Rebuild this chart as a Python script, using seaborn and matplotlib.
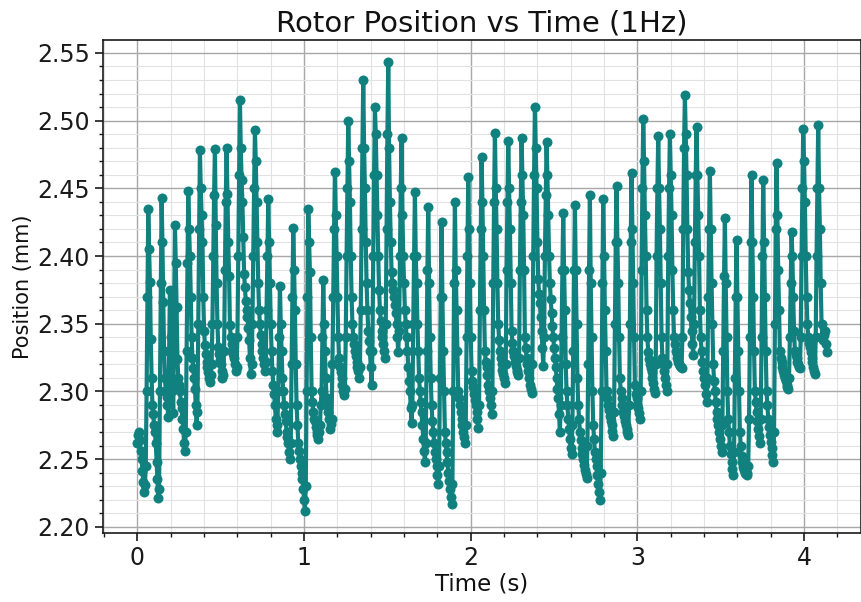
import numpy as np
import pandas as pd
import matplotlib
matplotlib.use("Agg")
import matplotlib.pyplot as plt
from matplotlib.ticker import MultipleLocator, FormatStrFormatter
import seaborn as sns

# Rotor position samples (mm), logged every 5 ms; one row per oscillation cycle,
# each row ending on that cycle's peak.
sample_period_s = 0.005
position_mm = [
    2.262, 2.268, 2.270, 2.264, 2.256, 2.250, 2.241, 2.233, 2.226, 2.231, 2.245, 2.300, 2.370, 2.435,
    2.405, 2.381, 2.339, 2.310, 2.290, 2.283, 2.275, 2.270, 2.262, 2.248, 2.235, 2.221, 2.228, 2.300, 2.380, 2.443,
    2.410, 2.366, 2.330, 2.310, 2.300, 2.296, 2.290, 2.281, 2.330, 2.375,
    2.340, 2.305, 2.300, 2.284, 2.360, 2.423,
    2.395, 2.362, 2.324, 2.310, 2.305, 2.300, 2.292, 2.288, 2.280, 2.272, 2.262, 2.256, 2.270, 2.330, 2.395, 2.448,
    2.420, 2.400, 2.370, 2.340, 2.325, 2.317, 2.310, 2.302, 2.290, 2.275, 2.285, 2.350, 2.420, 2.478,
    2.450, 2.430, 2.410, 2.370, 2.345, 2.334, 2.328, 2.322, 2.318, 2.314, 2.310, 2.307, 2.312, 2.320, 2.350, 2.400, 2.445, 2.479,
    2.423, 2.380, 2.350, 2.333, 2.328, 2.323, 2.320, 2.315, 2.310, 2.312, 2.330, 2.390, 2.440, 2.480,
    2.446, 2.410, 2.385, 2.349, 2.340, 2.335, 2.330, 2.328, 2.325, 2.320, 2.315, 2.318, 2.340, 2.400, 2.460, 2.515,
    2.480, 2.456, 2.440, 2.414, 2.387, 2.377, 2.367, 2.360, 2.355, 2.347, 2.338, 2.325, 2.313, 2.320, 2.350, 2.400, 2.450, 2.493,
    2.470, 2.440, 2.410, 2.380, 2.360, 2.350, 2.342, 2.335, 2.330, 2.325, 2.320, 2.315, 2.322, 2.360, 2.400, 2.442,
    2.410, 2.380, 2.350, 2.330, 2.315, 2.305, 2.298, 2.290, 2.280, 2.270, 2.275, 2.300, 2.340, 2.378,
    2.350, 2.330, 2.310, 2.300, 2.290, 2.283, 2.278, 2.270, 2.266, 2.262, 2.255, 2.250, 2.262, 2.320, 2.370, 2.421,
    2.390, 2.360, 2.320, 2.290, 2.275, 2.262, 2.256, 2.250, 2.245, 2.240, 2.235, 2.228, 2.220, 2.212, 2.230, 2.300, 2.370, 2.435,
    2.410, 2.388, 2.340, 2.300, 2.292, 2.285, 2.280, 2.278, 2.274, 2.270, 2.268, 2.265, 2.270, 2.275, 2.290, 2.300, 2.340, 2.382,
    2.350, 2.330, 2.310, 2.295, 2.290, 2.285, 2.280, 2.272, 2.276, 2.280, 2.320, 2.370, 2.420, 2.462,
    2.430, 2.400, 2.370, 2.340, 2.325, 2.318, 2.314, 2.310, 2.305, 2.300, 2.297, 2.302, 2.340, 2.400, 2.450, 2.500,
    2.470, 2.440, 2.400, 2.370, 2.350, 2.340, 2.335, 2.330, 2.326, 2.322, 2.318, 2.315, 2.310, 2.318, 2.360, 2.420, 2.480, 2.530,
    2.480, 2.450, 2.410, 2.380, 2.360, 2.345, 2.337, 2.330, 2.318, 2.305, 2.330, 2.400, 2.460, 2.510,
    2.490, 2.460, 2.430, 2.400, 2.375, 2.360, 2.352, 2.345, 2.340, 2.335, 2.330, 2.325, 2.350, 2.420, 2.490, 2.543,
    2.480, 2.440, 2.410, 2.388, 2.380, 2.375, 2.370, 2.364, 2.358, 2.350, 2.340, 2.329, 2.345, 2.400, 2.450, 2.487,
    2.430, 2.400, 2.380, 2.360, 2.350, 2.340, 2.330, 2.318, 2.308, 2.300, 2.288, 2.277, 2.290, 2.350, 2.400, 2.447,
    2.400, 2.380, 2.350, 2.330, 2.310, 2.300, 2.292, 2.285, 2.275, 2.265, 2.256, 2.248, 2.262, 2.330, 2.390, 2.436,
    2.380, 2.340, 2.310, 2.290, 2.278, 2.270, 2.262, 2.255, 2.250, 2.245, 2.238, 2.232, 2.245, 2.310, 2.370, 2.425,
    2.370, 2.330, 2.300, 2.270, 2.262, 2.255, 2.248, 2.240, 2.234, 2.228, 2.222, 2.217, 2.232, 2.300, 2.380, 2.440,
    2.390, 2.360, 2.330, 2.300, 2.295, 2.290, 2.285, 2.280, 2.275, 2.270, 2.266, 2.262, 2.275, 2.340, 2.400, 2.458,
    2.420, 2.380, 2.340, 2.315, 2.308, 2.303, 2.298, 2.294, 2.290, 2.285, 2.280, 2.273, 2.290, 2.360, 2.420, 2.473,
    2.440, 2.400, 2.360, 2.330, 2.322, 2.318, 2.312, 2.305, 2.300, 2.295, 2.290, 2.283, 2.300, 2.380, 2.440, 2.491,
    2.450, 2.420, 2.380, 2.350, 2.338, 2.330, 2.325, 2.320, 2.316, 2.313, 2.310, 2.306, 2.320, 2.390, 2.440, 2.485,
    2.450, 2.420, 2.380, 2.345, 2.336, 2.330, 2.326, 2.322, 2.319, 2.316, 2.314, 2.312, 2.325, 2.390, 2.440, 2.487,
    2.460, 2.430, 2.390, 2.340, 2.332, 2.325, 2.320, 2.315, 2.310, 2.305, 2.302, 2.299, 2.320, 2.400, 2.460, 2.510,
    2.480, 2.450, 2.410, 2.383, 2.372, 2.365, 2.355, 2.345, 2.332, 2.319, 2.340, 2.400, 2.445, 2.484,
    2.460, 2.430, 2.400, 2.380, 2.368, 2.358, 2.348, 2.340, 2.332, 2.325, 2.318, 2.310, 2.302, 2.295, 2.283, 2.270, 2.290, 2.340, 2.390, 2.432,
    2.390, 2.360, 2.320, 2.300, 2.290, 2.280, 2.272, 2.265, 2.258, 2.254, 2.275, 2.330, 2.390, 2.438,
    2.390, 2.350, 2.310, 2.290, 2.280, 2.270, 2.264, 2.258, 2.254, 2.250, 2.246, 2.242, 2.239, 2.236, 2.260, 2.320, 2.390, 2.445,
    2.380, 2.340, 2.300, 2.275, 2.265, 2.255, 2.250, 2.245, 2.238, 2.232, 2.226, 2.220, 2.240, 2.300, 2.380, 2.442,
    2.400, 2.360, 2.330, 2.300, 2.295, 2.290, 2.286, 2.282, 2.278, 2.275, 2.271, 2.267, 2.285, 2.350, 2.410, 2.452,
    2.410, 2.380, 2.340, 2.310, 2.300, 2.295, 2.290, 2.285, 2.282, 2.278, 2.275, 2.272, 2.270, 2.268, 2.290, 2.350, 2.410, 2.461,
    2.420, 2.380, 2.340, 2.305, 2.298, 2.295, 2.290, 2.288, 2.284, 2.280, 2.300, 2.390, 2.450, 2.501,
    2.470, 2.430, 2.400, 2.360, 2.340, 2.329, 2.324, 2.320, 2.317, 2.314, 2.310, 2.306, 2.302, 2.299, 2.320, 2.400, 2.450, 2.489,
    2.450, 2.420, 2.380, 2.340, 2.325, 2.320, 2.315, 2.310, 2.305, 2.300, 2.320, 2.400, 2.450, 2.490,
    2.460, 2.430, 2.390, 2.360, 2.340, 2.335, 2.330, 2.328, 2.325, 2.322, 2.320, 2.319, 2.318, 2.317, 2.340, 2.420, 2.480, 2.519,
    2.490, 2.460, 2.420, 2.388, 2.375, 2.365, 2.355, 2.345, 2.335, 2.327, 2.350, 2.410, 2.460, 2.495,
    2.460, 2.430, 2.400, 2.360, 2.340, 2.330, 2.322, 2.315, 2.310, 2.305, 2.298, 2.292, 2.310, 2.370, 2.420, 2.463,
    2.420, 2.380, 2.350, 2.320, 2.308, 2.300, 2.292, 2.285, 2.280, 2.275, 2.270, 2.265, 2.260, 2.255, 2.275, 2.330, 2.385, 2.428,
    2.380, 2.340, 2.300, 2.280, 2.270, 2.260, 2.254, 2.248, 2.243, 2.238, 2.255, 2.310, 2.370, 2.412,
    2.370, 2.330, 2.300, 2.270, 2.260, 2.252, 2.248, 2.244, 2.242, 2.240, 2.239, 2.238, 2.240, 2.245, 2.280, 2.340, 2.410, 2.460,
    2.410, 2.370, 2.330, 2.300, 2.292, 2.285, 2.278, 2.272, 2.267, 2.262, 2.280, 2.340, 2.400, 2.456,
    2.410, 2.370, 2.330, 2.300, 2.290, 2.280, 2.274, 2.268, 2.263, 2.258, 2.253, 2.248, 2.270, 2.350, 2.420, 2.469,
    2.430, 2.390, 2.360, 2.330, 2.325, 2.322, 2.318, 2.315, 2.312, 2.310, 2.308, 2.305, 2.303, 2.302, 2.310, 2.340, 2.380, 2.418,
    2.400, 2.370, 2.345, 2.330, 2.327, 2.325, 2.322, 2.320, 2.318, 2.317, 2.340, 2.400, 2.450, 2.494,
    2.470, 2.440, 2.400, 2.370, 2.350, 2.340, 2.336, 2.333, 2.329, 2.325, 2.322, 2.318, 2.315, 2.313, 2.340, 2.400, 2.450, 2.497,
    2.450, 2.420, 2.380, 2.350, 2.340, 2.338, 2.342, 2.345, 2.335, 2.329,
]
time_s = np.arange(len(position_mm)) * sample_period_s

df = pd.DataFrame({"Time (s)": time_s, "Position (mm)": position_mm})

sns.set_style("ticks")
plt.rcParams["font.family"] = ["DejaVu Sans"]

fig = plt.figure(figsize=(8.61, 6.02), dpi=100)
ax = fig.add_axes([0.1196, 0.1146, 0.8804, 0.819])

sns.lineplot(data=df, x="Time (s)", y="Position (mm)", ax=ax,
             color="#118180", linewidth=3.0, marker="o", markersize=7.2,
             markeredgewidth=0, estimator=None, sort=False)

ax.margins(x=0.05, y=0.05)
ax.xaxis.set_major_locator(MultipleLocator(1))
ax.xaxis.set_minor_locator(MultipleLocator(0.2))
ax.yaxis.set_major_locator(MultipleLocator(0.05))
ax.yaxis.set_minor_locator(MultipleLocator(0.01))
ax.yaxis.set_major_formatter(FormatStrFormatter("%.2f"))

ax.grid(which="major", color="#a8a8a8", linewidth=1.0)
ax.grid(which="minor", color="#e2e2e2", linewidth=0.8)
ax.set_axisbelow(True)

for side in ["top", "right", "left", "bottom"]:
    ax.spines[side].set_visible(True)
    ax.spines[side].set_color("#1a1a1a")
    ax.spines[side].set_linewidth(1.2)

ax.tick_params(which="major", direction="out", length=6, width=1.2, labelsize=17, colors="#1a1a1a")
ax.tick_params(which="minor", direction="out", length=3, width=1.0, colors="#1a1a1a")

ax.set_title("Rotor Position vs Time (1Hz)", fontsize=21, pad=6, color="#111111")
ax.set_xlabel("Time (s)", fontsize=16.5, labelpad=2, color="#111111")
ax.set_ylabel("Position (mm)", fontsize=15, labelpad=3, color="#111111")

fig.savefig("out.png", dpi=100)
